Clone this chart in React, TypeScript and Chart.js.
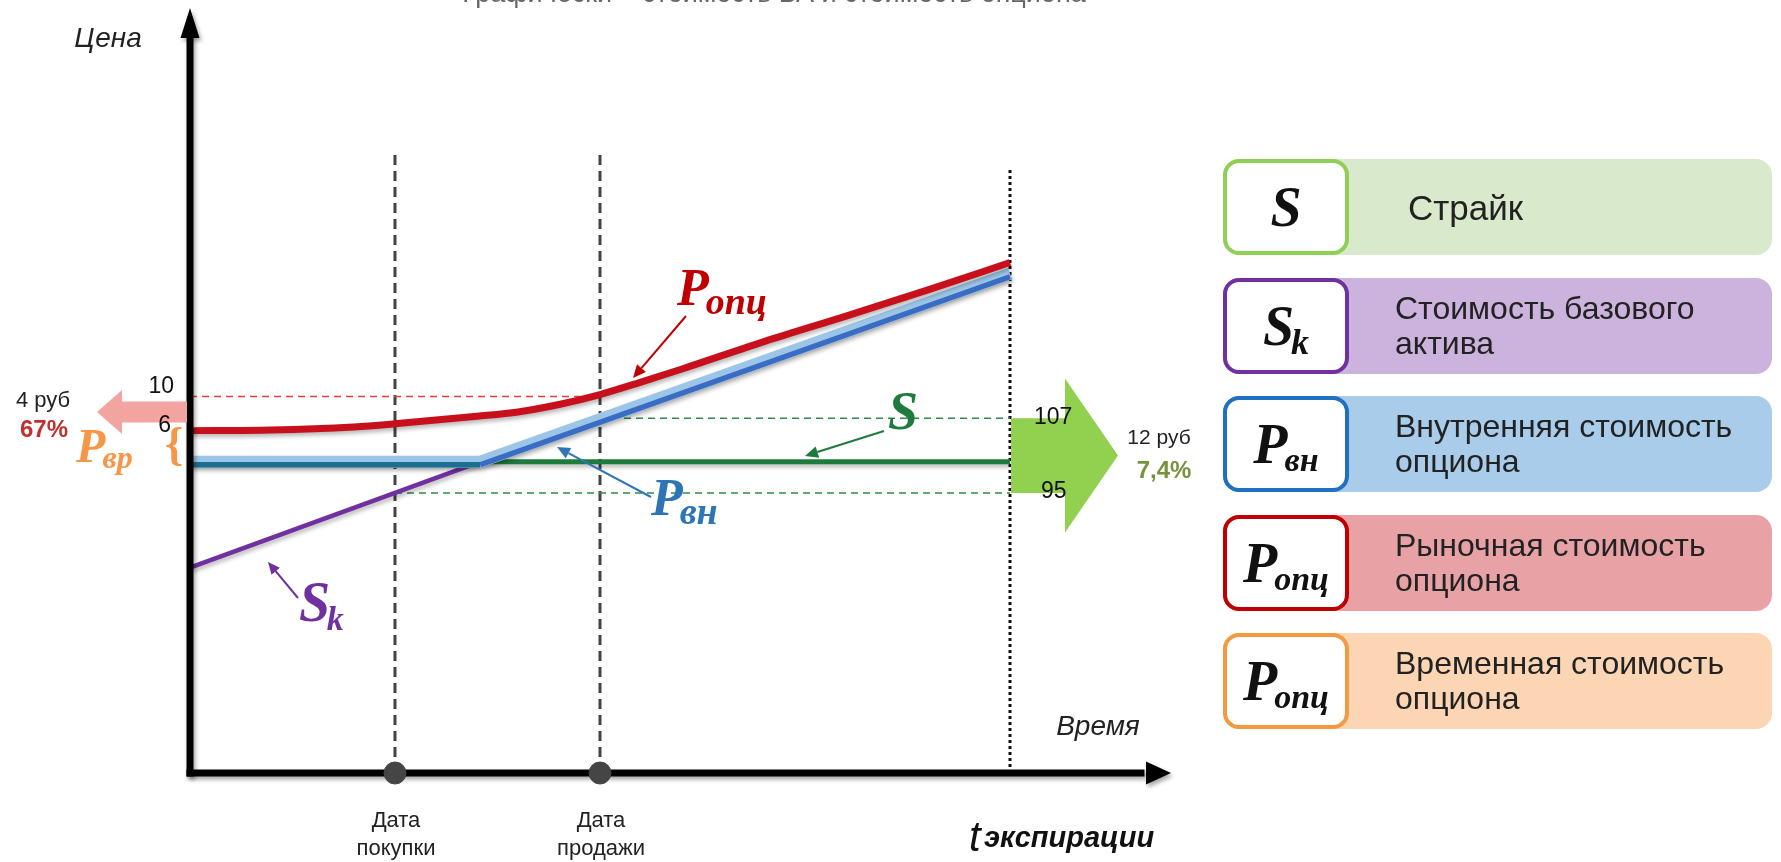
import React, { useEffect, useRef } from "react";
import { Chart, registerables } from "chart.js";

Chart.register(...registerables);

const W = 1781;
const H = 862;
const SANS = 'Arial, "Liberation Sans", sans-serif';

// Time axis: 0 = start, 25 = purchase date, 50 = sale date, 100 = expiration
const purchaseTime = 25;
const saleTime = 50;
const expiryTime = 100;

// Market value of the option (P_опц), price level
const marketTime = [0, 10, 20, 25, 30, 35, 40, 45, 50, 55, 60, 70, 80, 90, 100];
const marketValue = [105, 105.1, 105.6, 106.1, 106.7, 107.3, 108, 109.2, 110.8, 112.8, 114.9, 119.3, 123.4, 127.6, 132];

// Underlying asset price (S_k)
const underlyingTime = [0, 25, 50, 100];
const underlyingValue = [83, 95, 107, 130.2];

// Intrinsic value (P_вн) drawn on the price level: max(S_k, S)
const intrinsicTime = [0, 35.4, 100];
const intrinsicValue = [100, 100, 130.2];

// Strike (S)
const strikeTime = [0, 100];
const strikeValue = [100, 100];

// Reference levels
const optionSaleLevel = 110.5;
const underlyingBuyLevel = 95;
const underlyingSellLevel = 107;
const guideTop = 149.4;
const expiryGuideTop = 147.2;
const axisBottom = 50;

// Tick labels
const leftTickLabels = ["10", "6"];
const rightTickLabels = ["107", "95"];
const leftDiffLabels = ["4 руб", "67%"];
const rightDiffLabels = ["12 руб", "7,4%"];
const dateLabels = [["Дата", "покупки"], ["Дата", "продажи"]];
const expiryLabel = ["t", "экспирации"];
const axisLabels = ["Цена", "Время"];
const titleText = "Графически – стоимость БА и стоимость опциона";

// Legend
const legendSymbols = [
  { main: "S", sub: "" },
  { main: "S", sub: "k" },
  { main: "P", sub: "вн" },
  { main: "P", sub: "опц" },
  { main: "P", sub: "опц" },
];
const legendLabels = [
  ["Страйк"],
  ["Стоимость базового", "актива"],
  ["Внутренняя стоимость", "опциона"],
  ["Рыночная стоимость", "опциона"],
  ["Временная стоимость", "опциона"],
];
const legendBorder = ["#8fcf55", "#7030a0", "#1f70c1", "#c00000", "#f5993f"];
const legendFill = ["#d8eacb", "#ccb3dd", "#a8cce9", "#e8a2a6", "#fcd6b4"];

const pts = (xs: number[], ys: number[]) => xs.map((x, i) => ({ x, y: ys[i] }));

function arrowLine(ctx: CanvasRenderingContext2D, x1: number, y1: number, x2: number, y2: number, color: string, w: number, head: number) {
  ctx.save();
  ctx.strokeStyle = color;
  ctx.fillStyle = color;
  ctx.lineWidth = w;
  const a = Math.atan2(y2 - y1, x2 - x1);
  const bx = x2 - head * Math.cos(a);
  const by = y2 - head * Math.sin(a);
  ctx.beginPath();
  ctx.moveTo(x1, y1);
  ctx.lineTo(bx, by);
  ctx.stroke();
  ctx.beginPath();
  ctx.moveTo(x2, y2);
  ctx.lineTo(bx + head * 0.45 * Math.sin(a), by - head * 0.45 * Math.cos(a));
  ctx.lineTo(bx - head * 0.45 * Math.sin(a), by + head * 0.45 * Math.cos(a));
  ctx.closePath();
  ctx.fill();
  ctx.restore();
}

function symbol(ctx: CanvasRenderingContext2D, x: number, base: number, main: string, sub: string, color: string, size: number, subSize: number, drop: number) {
  ctx.save();
  ctx.fillStyle = color;
  ctx.textAlign = "left";
  ctx.textBaseline = "alphabetic";
  ctx.font = `bold italic ${size}px "Liberation Serif"`;
  ctx.fillText(main, x, base);
  const w = ctx.measureText(main).width;
  if (sub) {
    ctx.font = `bold italic ${subSize}px "Liberation Serif"`;
    ctx.fillText(sub, x + w - size * 0.06, base + drop);
  }
  ctx.restore();
}

const layerPlugin = {
  id: "layers",
  beforeDatasetDraw(chart: any, args: any) {
    const ds = chart.data.datasets[args.index];
    const ctx = chart.ctx;
    ctx.save();
    if (ds.shiftY) ctx.translate(0, ds.shiftY);
    if (ds.glow) {
      ctx.shadowColor = "rgba(0,0,0,0.28)";
      ctx.shadowBlur = 4;
      ctx.shadowOffsetX = 1;
      ctx.shadowOffsetY = 3;
    }
    if (ds.isDots) {
      drawAxes(chart);
    }
  },
  afterDatasetDraw(chart: any) {
    chart.ctx.restore();
  },
  afterDraw(chart: any) {
    drawAnnotations(chart);
  },
};

function drawAxes(chart: any) {
  const ctx = chart.ctx as CanvasRenderingContext2D;
  const xs = chart.scales.x;
  const ys = chart.scales.y;
  const ax = xs.getPixelForValue(0);
  const ay = ys.getPixelForValue(axisBottom);
  ctx.save();
  ctx.shadowColor = "rgba(0,0,0,0.35)";
  ctx.shadowBlur = 4;
  ctx.shadowOffsetX = 2;
  ctx.shadowOffsetY = 3;
  ctx.fillStyle = "#000";
  ctx.fillRect(ax - 3.5, 34, 7, ay - 34 + 3.5);
  ctx.beginPath();
  ctx.moveTo(ax, 8);
  ctx.lineTo(ax + 9.5, 38);
  ctx.lineTo(ax - 9.5, 38);
  ctx.closePath();
  ctx.fill();
  ctx.fillRect(ax - 3.5, ay - 3.5, 1148 - ax, 7);
  ctx.beginPath();
  ctx.moveTo(1171, ay);
  ctx.lineTo(1146, ay - 11.5);
  ctx.lineTo(1146, ay + 11.5);
  ctx.closePath();
  ctx.fill();
  ctx.restore();
}

function drawAnnotations(chart: any) {
  const ctx = chart.ctx as CanvasRenderingContext2D;
  const xs = chart.scales.x;
  const ys = chart.scales.y;
  const ax = xs.getPixelForValue(0);
  const ex = xs.getPixelForValue(expiryTime);

  ctx.save();
  // partially cut title
  ctx.fillStyle = "#666";
  ctx.font = `27px ${SANS}`;
  ctx.textAlign = "center";
  ctx.textBaseline = "alphabetic";
  ctx.fillText(titleText, 774, 2);

  // axis labels
  ctx.fillStyle = "#222";
  ctx.font = `italic 28px ${SANS}`;
  ctx.textBaseline = "middle";
  ctx.fillText(axisLabels[0], 108, 39);
  ctx.fillText(axisLabels[1], 1098, 727);

  // date labels
  ctx.font = `22px ${SANS}`;
  ctx.fillStyle = "#222";
  [purchaseTime, saleTime].forEach((t, i) => {
    const px = xs.getPixelForValue(t);
    ctx.fillText(dateLabels[i][0], px + 1, 821);
    ctx.fillText(dateLabels[i][1], px + 1, 849);
  });

  // t expiration
  ctx.textAlign = "left";
  ctx.textBaseline = "alphabetic";
  ctx.fillStyle = "#111";
  ctx.font = `italic 42px ${SANS}`;
  ctx.fillText(expiryLabel[0], 969, 851);
  ctx.font = `bold italic 29px ${SANS}`;
  ctx.fillText(expiryLabel[1], 984, 847);

  // pink arrow (left)
  const ly = 412;
  ctx.fillStyle = "#f4a4a0";
  ctx.beginPath();
  ctx.moveTo(ax - 3, ly - 10.5);
  ctx.lineTo(122, ly - 10.5);
  ctx.lineTo(122, ly - 22);
  ctx.lineTo(97, ly);
  ctx.lineTo(122, ly + 22);
  ctx.lineTo(122, ly + 10.5);
  ctx.lineTo(ax - 3, ly + 10.5);
  ctx.closePath();
  ctx.fill();

  // green arrow (right)
  const gy1 = ys.getPixelForValue(underlyingSellLevel);
  const gy2 = ys.getPixelForValue(underlyingBuyLevel);
  const gm = (gy1 + gy2) / 2;
  ctx.fillStyle = "#92d050";
  ctx.beginPath();
  ctx.moveTo(ex + 1, gy1);
  ctx.lineTo(1065, gy1);
  ctx.lineTo(1065, gm - 77);
  ctx.lineTo(1118, gm);
  ctx.lineTo(1065, gm + 77);
  ctx.lineTo(1065, gy2);
  ctx.lineTo(ex + 1, gy2);
  ctx.closePath();
  ctx.fill();

  // left tick labels
  ctx.font = `23px ${SANS}`;
  ctx.fillStyle = "#111";
  ctx.textAlign = "right";
  ctx.textBaseline = "middle";
  ctx.fillText(leftTickLabels[0], 174, ys.getPixelForValue(optionSaleLevel) - 10);
  ctx.fillText(leftTickLabels[1], 171, ys.getPixelForValue(marketValue[0]) - 5);

  // right tick labels
  ctx.textAlign = "left";
  ctx.fillText(rightTickLabels[0], 1034, gy1 - 1);
  ctx.fillText(rightTickLabels[1], 1041, gy2 - 1);

  // diff labels
  ctx.textAlign = "center";
  ctx.font = `22px ${SANS}`;
  ctx.fillStyle = "#222";
  ctx.fillText(leftDiffLabels[0], 43, 401);
  ctx.font = `bold 24px ${SANS}`;
  ctx.fillStyle = "#c0302e";
  ctx.fillText(leftDiffLabels[1], 44, 430);
  ctx.font = `21px ${SANS}`;
  ctx.fillStyle = "#222";
  ctx.fillText(rightDiffLabels[0], 1159, 438);
  ctx.font = `bold 24px ${SANS}`;
  ctx.fillStyle = "#76923c";
  ctx.fillText(rightDiffLabels[1], 1164, 471);

  // P_вр and brace
  symbol(ctx, 76, 462, "P", "вр", "#f79646", 48, 32, 6);
  ctx.fillStyle = "#f79646";
  ctx.font = `bold 46px "Liberation Serif"`;
  ctx.textAlign = "center";
  ctx.textBaseline = "middle";
  ctx.fillText("{", 174, 447);

  // curve labels
  symbol(ctx, 677, 305, "P", "опц", "#c00000", 52, 38, 9);
  arrowLine(ctx, 686, 316, 633, 378, "#c00000", 2, 13);

  symbol(ctx, 888, 429, "S", "", "#1e7b3c", 54, 0, 0);
  arrowLine(ctx, 884, 431, 805, 456, "#1e7b3c", 2, 13);

  symbol(ctx, 651, 515, "P", "вн", "#2e75b6", 52, 38, 9);
  arrowLine(ctx, 651, 497, 557, 447, "#2e75b6", 2, 13);

  symbol(ctx, 299, 621, "S", "k", "#7030a0", 56, 34, 9);
  arrowLine(ctx, 298, 598, 268, 562, "#7030a0", 2, 12);

  ctx.restore();
}

function Legend() {
  return (
    <>
      {legendLabels.map((lines, i) => {
        const top = 159 + i * 118.5;
        const sym = legendSymbols[i];
        return (
          <div
            key={i}
            style={{
              position: "absolute",
              left: 1223,
              top,
              width: 549,
              height: 96,
              borderRadius: 16,
              background: legendFill[i],
            }}
          >
            <div
              style={{
                position: "absolute",
                left: 0,
                top: 0,
                width: 126,
                height: 96,
                boxSizing: "border-box",
                border: `4px solid ${legendBorder[i]}`,
                borderRadius: 16,
                background: "#fff",
                display: "flex",
                alignItems: "center",
                justifyContent: "center",
                fontFamily: '"Liberation Serif"',
                fontWeight: "bold",
                fontStyle: "italic",
                color: "#111",
              }}
            >
              <span style={{ fontSize: 56, lineHeight: "56px" }}>{sym.main}</span>
              {sym.sub ? (
                <span style={{ fontSize: sym.sub === "k" ? 36 : 34, position: "relative", top: 16, marginLeft: -3 }}>{sym.sub}</span>
              ) : null}
            </div>
            <div
              style={{
                position: "absolute",
                left: i === 0 ? 185 : 172,
                top: 0,
                height: 96,
                display: "flex",
                flexDirection: "column",
                justifyContent: "center",
                fontFamily: SANS,
                fontSize: i === 0 ? 35 : 32,
                lineHeight: "35px",
                color: "#222",
                whiteSpace: "nowrap",
              }}
            >
              {lines.map((l, j) => (
                <div key={j}>{l}</div>
              ))}
            </div>
          </div>
        );
      })}
    </>
  );
}

export default function App() {
  const ref = useRef<HTMLCanvasElement | null>(null);

  useEffect(() => {
    if (!ref.current) return;
    const line = (label: string, data: any[], color: string, width: number, order: number, extra: any = {}) => ({
      type: "line",
      label,
      data,
      borderColor: color,
      borderWidth: width,
      pointRadius: 0,
      fill: false,
      clip: false,
      order,
      ...extra,
    });
    const chart = new Chart(ref.current, {
      type: "line",
      data: {
        datasets: [
          line("purchase guide", pts([purchaseTime, purchaseTime], [axisBottom, guideTop]), "#444", 3, 20, { borderDash: [10, 6] }),
          line("sale guide", pts([saleTime, saleTime], [axisBottom, guideTop]), "#444", 3, 19, { borderDash: [10, 6] }),
          line("expiry guide", pts([expiryTime, expiryTime], [axisBottom, expiryGuideTop]), "#111", 3, 18, { borderDash: [3, 3] }),
          line("option at sale", pts([0, saleTime], [optionSaleLevel, optionSaleLevel]), "#e0403f", 1.5, 17, { borderDash: [7, 5] }),
          line("underlying at sale", pts([saleTime, expiryTime], [underlyingSellLevel, underlyingSellLevel]), "#2f8a4a", 1.5, 16, { borderDash: [7, 5] }),
          line("underlying at purchase", pts([purchaseTime, expiryTime], [underlyingBuyLevel, underlyingBuyLevel]), "#2f8a4a", 1.5, 15, { borderDash: [7, 5] }),
          line("S", pts(strikeTime, strikeValue), "#1e7b3c", 5, 14, { glow: true }),
          line("S_k", pts(underlyingTime, underlyingValue), "#7030a0", 4.5, 13, { glow: true }),
          line("P_вн", pts(intrinsicTime, intrinsicValue), "#9cc6e8", 12, 12, { glow: true }),
          line("P_вн shade", pts(intrinsicTime, intrinsicValue), "#1c6f8f", 5.5, 11, {
            shiftY: 3,
            segment: { borderColor: (c: any) => (c.p0DataIndex === 0 ? "#1c6f8f" : "#3a6cc4") },
          }),
          line("P_опц", pts(marketTime, marketValue), "#c8101c", 7, 10, { glow: true, cubicInterpolationMode: "monotone" }),
          {
            type: "scatter",
            label: "dates",
            data: pts([purchaseTime, saleTime], [axisBottom, axisBottom]),
            pointRadius: 11,
            pointBackgroundColor: "#454545",
            pointBorderColor: "#454545",
            clip: false,
            order: 0,
            isDots: true,
          },
        ] as any,
      },
      options: {
        responsive: false,
        animation: false,
        devicePixelRatio: 1,
        layout: { padding: { left: 190, right: W - 1010, top: 26, bottom: H - 773 } },
        scales: {
          x: { type: "linear", min: 0, max: 100, display: false },
          y: { type: "linear", min: 50, max: 170, display: false },
        },
        plugins: { legend: { display: false }, tooltip: { enabled: false }, title: { display: false } },
        events: [],
      } as any,
      plugins: [layerPlugin],
    });
    return () => chart.destroy();
  }, []);

  return (
    <div style={{ position: "absolute", left: 0, top: 0, width: W, height: H, background: "#fff", overflow: "hidden" }}>
      <canvas ref={ref} width={W} height={H} style={{ position: "absolute", left: 0, top: 0, width: W, height: H }} />
      <Legend />
    </div>
  );
}
